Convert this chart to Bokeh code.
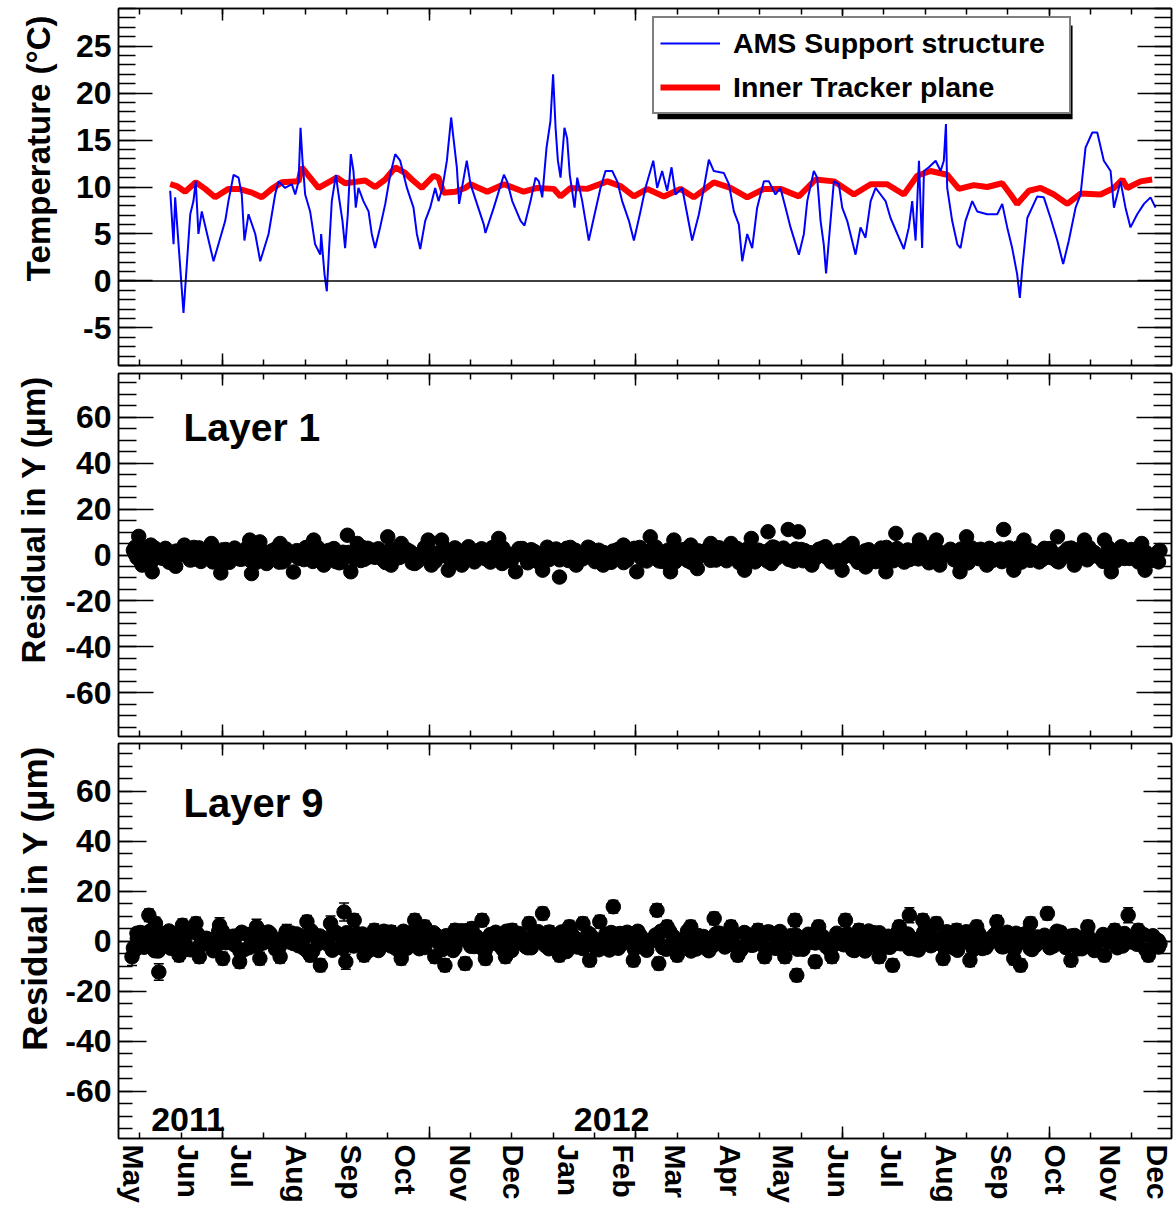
from bokeh.plotting import figure
from bokeh.models import (Range1d, FixedTicker, LinearAxis, Span, Legend, LegendItem, Title,
                          Label, BoxAnnotation, Whisker, ColumnDataSource, TeeHead)
from bokeh.layouts import column
from bokeh.embed import file_html
from bokeh.resources import INLINE

FONT = "Liberation Sans"

# ---------------- data (x = days since 2011-05-01) ----------------
month_days = [0, 31, 61, 92, 123, 153, 184, 214, 245, 276, 305, 336, 366, 397, 427, 458, 489, 519, 550, 580]
month_names = ["May", "Jun", "Jul", "Aug", "Sep", "Oct", "Nov", "Dec", "Jan", "Feb",
               "Mar", "Apr", "May", "Jun", "Jul", "Aug", "Sep", "Oct", "Nov", "Dec"]
year_labels = ["2011", "2012"]
year_days = [10.0, 248.0]

ams_support = [
    (20.7, 9.6), (22.6, 3.9), (23.5, 8.9), (28.2, -3.4), (32.0, 7.1), (33.8, 8.5), (35.1, 10.6), (36.6, 5.0),
    (38.5, 7.4), (45.1, 2.1), (51.7, 6.4), (53.5, 8.5), (56.4, 11.3), (59.2, 11.0), (61.0, 9.2), (62.5, 4.3),
    (64.8, 7.1), (68.6, 5.0), (71.4, 2.1), (76.1, 5.0), (79.8, 9.2), (81.7, 10.6), (85.4, 9.9), (89.2, 10.3),
    (91.1, 9.2), (93.0, 10.6), (94.1, 16.3), (95.2, 12.8), (96.7, 9.2), (99.5, 7.4), (102.3, 3.9), (105.2, 2.8),
    (105.7, 5.0), (107.6, 0.7), (108.9, -1.1), (110.2, 3.5), (111.7, 8.5), (114.0, 11.3), (115.5, 9.2), (117.7, 6.4),
    (119.2, 3.5), (120.7, 7.1), (122.4, 13.5), (123.9, 11.7), (125.2, 7.8), (126.7, 9.9), (129.5, 8.5), (132.4, 7.4),
    (134.2, 5.0), (136.1, 3.5), (138.9, 5.7), (141.8, 8.2), (144.6, 11.3), (147.4, 13.5), (150.2, 12.8), (154.0, 9.9),
    (157.7, 7.8), (159.6, 5.0), (161.5, 3.4), (164.3, 6.4), (167.1, 7.8), (169.9, 9.9), (171.8, 8.5), (174.0, 9.9),
    (176.5, 12.8), (178.9, 17.4), (180.2, 15.2), (182.1, 12.1), (183.4, 8.2), (187.7, 12.8),
    (189.8, 10.3), (197.3, 6.0), (198.2, 5.1), (202.9, 7.8), (208.6, 11.3), (210.4, 10.6), (213.3, 8.5), (218.0, 6.4),
    (220.2, 5.9), (223.6, 8.5), (226.4, 11.0), (228.3, 10.6), (230.2, 8.9), (232.6, 14.2), (234.8, 17.0), (236.3, 22.0),
    (237.7, 16.3), (239.0, 12.8), (240.5, 11.0), (242.7, 16.3), (244.2, 15.2), (245.7, 11.3), (248.4, 7.8), (249.9, 11.0),
    (252.7, 8.5), (256.4, 4.3), (259.2, 6.7), (263.0, 9.9), (265.8, 11.7), (269.6, 11.7), (272.4, 10.6), (275.2, 8.5),
    (279.0, 6.4), (281.8, 4.3), (285.5, 7.4), (288.3, 9.9), (292.7, 12.8), (294.9, 9.9), (297.7, 11.7), (300.5, 9.6),
    (303.0, 12.1), (305.2, 9.2), (309.0, 9.9), (311.8, 7.1), (314.6, 4.3), (318.4, 7.1), (321.2, 9.9), (324.0, 12.9),
    (326.8, 11.7), (332.4, 11.5), (335.3, 10.3), (338.1, 7.4), (340.9, 6.0), (342.8, 2.1), (345.6, 5.0), (348.4, 3.5),
    (351.2, 7.8), (355.0, 10.6), (357.8, 10.6), (361.5, 9.2), (364.3, 9.9), (367.2, 7.8), (370.0, 5.7), (374.7, 2.8),
    (377.5, 5.0), (379.4, 8.5), (383.1, 11.7), (385.0, 11.0), (386.9, 6.4), (388.7, 3.9), (390.0, 0.8),
    (394.4, 10.6), (397.2, 10.3), (399.1, 7.8), (401.9, 6.4), (406.6, 2.8), (409.4, 5.7), (412.2, 4.6), (415.1, 8.5),
    (417.9, 9.9), (420.7, 9.2), (423.5, 8.5), (426.3, 6.7), (430.1, 5.0), (433.8, 3.4), (436.6, 5.7), (438.5, 8.5),
    (440.4, 4.3), (442.3, 12.8), (444.1, 3.5), (445.1, 11.7), (447.9, 12.1), (451.7, 12.8), (454.5, 11.7), (456.3, 12.8),
    (457.5, 16.7), (458.2, 9.9), (461.0, 6.4), (463.9, 3.9), (465.7, 3.5), (468.5, 6.4), (472.3, 8.5), (475.1, 7.4),
    (480.7, 7.1), (486.4, 7.1), (489.2, 8.2), (492.0, 5.7), (494.8, 3.5), (497.6, 0.7), (499.1, -1.8), (500.5, 1.4),
    (503.3, 6.7), (508.9, 9.0), (512.6, 8.9), (516.4, 6.7), (520.2, 4.3), (523.5, 1.8), (526.7, 4.3), (530.5, 7.8),
    (533.3, 9.2), (536.1, 14.2), (539.9, 15.8), (542.7, 15.8), (546.4, 12.8), (550.2, 11.7), (552.1, 7.8), (555.8, 10.6),
    (558.6, 7.8), (561.4, 5.7), (565.2, 7.1), (569.0, 8.2), (572.7, 8.9), (575.5, 7.8),
]

inner_tracker = [
    (20.7, 10.3), (24.4, 10.1), (29.1, 9.5), (35.1, 10.5), (40.4, 9.8), (46.0, 8.9), (53.5, 9.8), (59.2, 9.8),
    (66.7, 9.4), (72.3, 8.9), (77.9, 9.8), (83.6, 10.5), (93.0, 10.6), (94.8, 12.1), (98.6, 11.2), (104.2, 9.9),
    (108.0, 10.3), (114.5, 11.0), (119.2, 10.4), (130.5, 10.7), (136.1, 10.0), (141.8, 10.8), (147.4, 12.1),
    (153.0, 11.5), (156.8, 10.8), (162.4, 9.9), (169.0, 11.2), (171.8, 11.0), (174.6, 9.4), (181.2, 9.5),
    (186.8, 9.9), (189.8, 10.3), (199.2, 9.5), (208.6, 10.3), (219.8, 9.5), (227.3, 9.9), (236.7, 9.8),
    (240.5, 9.0), (246.1, 9.9), (255.5, 9.8), (266.8, 10.6), (274.3, 10.1), (281.8, 9.0), (289.3, 9.8),
    (298.7, 9.0), (308.0, 9.8), (315.5, 8.9), (326.8, 10.5), (336.2, 9.9), (345.6, 8.9), (355.0, 9.8),
    (364.3, 9.8), (374.7, 9.0), (384.1, 10.8), (394.4, 10.6), (405.7, 9.2), (415.1, 10.3), (424.4, 10.3),
    (433.8, 9.2), (441.3, 11.2), (448.8, 11.7), (458.2, 11.3), (464.8, 9.8), (473.2, 10.2), (480.7, 10.0),
    (489.2, 10.4), (493.9, 9.2), (497.6, 8.2), (504.2, 9.6), (510.8, 9.9), (518.3, 9.2), (525.8, 8.2),
    (533.3, 9.3), (544.5, 9.2), (552.1, 9.9), (556.8, 10.8), (559.6, 9.9), (567.1, 10.6), (573.6, 10.8),
]

# residual samples: three interleaved 4-day grids (band) plus individually read points
band_days_a = list(range(0, 580, 4))
band_days_b = list(range(2, 580, 4))
band_days_c = list(range(1, 580, 4))
layer1_band_a = [
    2.1, -2.6, 0.8, 3.0, -1.4, -3.1, 1.7, 0.2, -2.2, 2.8,
    -0.9, 1.3, -3.3, 2.4, 0.5, -1.8, 3.2, -2.7, 1.0, -0.4,
    2.6, -3.0, 0.9, 1.9, -2.0, -0.7, 3.1, -1.5, 2.2, -3.4,
    0.3, 1.6, -2.4, 2.9, -1.0, 0.6, -3.2, 2.0, -0.2, 1.4,
    -2.8, 3.3, -1.2, 0.4, 2.5, -2.3, -0.8, 1.8, -3.0, 2.7,
    0.1, -1.6, 3.0, -2.5, 1.1, -0.5, 2.3, -3.1, 1.5, 0.7,
    -2.1, 2.9, -1.3, 0.0, 3.4, -2.9, 1.2, -0.6, 2.0, -3.3,
    1.7, 0.9, -1.9, 2.6, -2.6, 0.5, 3.1, -1.1, -2.4, 1.9,
    0.3, 3.2, -2.2, 1.4, -0.9, 2.8, -3.0, 0.8, 2.1, -1.7,
    3.5, -0.3, 1.6, -2.7, 2.4, 0.2, -1.4, 3.0, -2.0, 1.3,
    -0.8, 2.7, -3.2, 1.8, 0.6, -1.9, 3.3, -2.5, 0.4, 2.2,
    -1.2, 2.9, -3.4, 1.5, -0.1, 2.5, -2.8, 1.0, 3.1, -1.6,
    0.7, -2.3, 2.6, -0.5, 1.9, -3.1, 2.3, 0.1, -1.8, 2.8,
    -2.6, 1.1, 3.0, -1.0, 0.5,
]
layer1_band_b = [
    -1.2, 2.4, -3.0, 0.6, 2.9, -2.1, 1.1, -0.4, 3.3, -2.8,
    0.9, -1.7, 2.2, -3.2, 1.5, 0.3, -2.5, 3.0, -0.8, 1.8,
    -3.1, 2.6, 0.1, -1.3, 3.4, -2.2, 0.7, 2.0, -2.9, 1.2,
    -0.6, 3.1, -1.9, 0.4, 2.7, -3.3, 1.6, -1.0, 2.3, -2.4,
    0.8, 3.0, -2.7, 1.3, -0.2, 2.5, -3.0, 0.5, 1.9, -1.6,
    3.2, -2.3, 0.9, -0.7, 2.8, -3.4, 1.4, 0.2, -2.0, 2.6,
    -1.1, 3.3, -2.6, 1.0, -0.3, 2.1, -3.1, 1.7, 0.6, -2.2,
    2.9, -1.4, 0.3, 3.5, -2.8, 1.2, -0.9, 2.4, -3.2, 1.8,
    0.0, -1.8, 3.1, -2.5, 1.5, -0.5, 2.7, -3.0, 0.7, 2.2,
    -1.5, 3.0, -2.1, 0.4, 1.9, -3.3, 2.5, -0.8, 1.1, -2.6,
    3.4, -1.2, 0.6, 2.3, -2.9, 1.6, -0.1, 2.8, -3.1, 0.9,
    -1.7, 3.2, -2.4, 1.3, 0.2, -2.0, 2.6, -3.4, 1.8, -0.6,
    2.9, -1.3, 0.5, -2.7, 3.1, -0.9, 1.4, -3.0, 2.1, 0.8,
    -1.9, 2.7, -2.3, 1.0, 3.3, -0.4, -2.8, 1.7, 0.3, -1.5,
    2.4, -3.1, 1.2, -0.7, 2.0,
]
layer1_band_c = [
    0.4, -2.9, 2.7, -1.1, 1.6, -3.2, 0.9, 2.3, -2.0, 3.1,
    -0.7, 1.2, -2.6, 0.0, 3.0, -1.8, 2.1, -3.3, 1.4, -0.5,
    2.8, -2.3, 0.7, -1.4, 3.2, -2.8, 1.9, -0.2, 2.4, -3.0,
    1.1, -1.9, 3.3, -0.8, 0.5, -2.5, 2.6, -1.2, 1.8, -3.4,
    0.3, 2.9, -2.1, 1.5, -0.9, 3.1, -2.7, 0.8, -1.5, 2.2,
    -3.1, 1.3, 0.1, -2.2, 2.7, -0.6, 1.7, -2.9, 3.4, -1.0,
    0.6, -2.4, 2.0, -1.7, 3.0, -0.3, 1.0, -3.2, 2.5, -1.3,
    0.9, 3.3, -2.6, 1.4, -0.4, 2.1, -3.0, 0.2, 2.9, -1.6,
    1.2, -2.3, 3.1, -0.9, 0.7, -3.3, 2.3, -1.1, 1.6, -2.7,
    3.2, 0.0, -1.9, 2.6, -2.5, 1.0, -0.7, 2.4, -3.1, 1.9,
    -0.2, 2.8, -2.2, 0.5, -1.4, 3.0, -2.8, 1.5, 0.3, -2.0,
    2.7, -1.1, 3.3, -2.4, 0.8, -0.5, 2.0, -3.4, 1.2, 2.5,
    -1.7, 0.6, -2.9, 3.1, -0.8, 1.8, -2.3, 0.4, 2.9, -1.2,
    -3.0, 1.6, 0.2, 2.6, -2.1, 1.1, -0.6, 3.2, -2.7, 0.9,
    -1.5, 2.3, -0.1, -2.4, 1.4,
]
layer1_points = [
    (3.0, 8.1), (1.1, 3.5), (4.9, -4.4), (10.6, -7.3), (9.8, 4.3), (21.9, 0.6), (23.8, -4.9), (28.7, 4.3),
    (33.3, -0.8), (43.9, 5.0), (44.7, -3.0), (49.2, -7.8), (56.0, 2.1), (65.5, 6.5), (66.5, -8.1), (71.2, 5.7),
    (75.0, -3.7), (82.6, 5.0), (90.1, -7.4), (101.5, 6.5), (107.2, -4.4), (112.9, 2.8), (120.5, 8.6), (122.4, -7.3),
    (126.1, 5.0), (135.6, 2.1), (143.2, 7.9), (145.1, -4.4), (150.8, 5.0), (158.4, -3.7), (166.0, 6.5), (167.8, -4.4),
    (173.5, 6.5), (177.3, -6.6), (184.9, -4.4), (188.7, 3.6), (198.2, -0.8), (205.7, 7.2), (207.6, -3.7),
    (215.2, -7.3), (219.0, 2.8), (230.4, -6.6), (238.0, -0.1), (239.9, -9.6), (249.3, -4.4), (256.9, 2.8),
    (264.5, -4.4), (275.9, 4.3), (283.4, -7.3), (291.0, 7.9), (294.8, -0.8), (302.4, -7.3), (304.3, 6.5),
    (313.8, 4.3), (317.5, -5.9), (325.1, 5.0), (332.7, -0.1), (336.5, 5.0), (344.1, -6.6), (347.9, 7.2),
    (357.3, 10.1), (359.2, -3.7), (368.7, 11.1), (374.4, 10.1), (382.0, -4.4), (389.6, 3.6), (399.0, -6.6),
    (404.7, 5.0), (412.3, -5.2), (423.7, -7.3), (429.3, 9.4), (433.1, -0.8), (442.6, 6.5), (452.1, 6.5),
    (454.0, -4.4), (465.4, -7.3), (469.1, 7.9), (480.5, -4.4), (490.0, 11.1), (495.7, -6.6), (501.4, 6.5),
    (510.8, -0.8), (520.3, 7.9), (529.8, -4.4), (535.5, 6.5), (546.8, 6.5), (550.6, -7.3), (556.3, 3.6),
    (567.7, 5.0), (569.6, -6.6), (577.2, -3.0),
]
layer9_band_a = [
    -2.8, 3.4, 0.6, -3.9, 2.2, 4.0, -1.3, 1.5, -3.5, 2.9,
    0.2, -2.4, 3.8, -0.7, 1.9, -4.1, 2.6, -1.8, 0.9, 3.6,
    -3.2, 1.2, -0.4, 2.8, -2.9, 4.1, -1.1, 0.5, -3.7, 2.3,
    3.3, -2.0, 1.0, -4.0, 2.7, -0.2, 1.7, -3.1, 3.9, -1.5,
    0.8, -2.6, 3.0, -0.9, 2.1, -3.8, 1.4, 4.2, -2.2, 0.3,
    -1.6, 3.5, -3.4, 2.0, -0.6, 1.1, -2.7, 3.7, -1.9, 0.4,
    2.5, -4.2, 1.6, -0.3, 3.2, -2.5, 0.7, -3.6, 2.4, 1.3,
    -1.0, 3.9, -2.8, 0.1, 2.6, -3.3, 1.8, -1.4, 4.0, -2.1,
    0.9, -3.9, 2.9, -0.5, 1.5, -2.3, 3.4, -1.7, 0.6, -3.0,
    2.2, 3.8, -1.2, 0.0, -2.9, 2.7, -0.8, 1.9, -3.5, 3.1,
    -1.5, 0.4, 2.3, -4.0, 1.0, 3.3, -2.4, 0.7, -1.1, 2.8,
    -3.2, 1.6, 3.6, -0.4, -2.0, 2.1, -3.7, 1.2, 0.3, 3.0,
    -2.6, 1.7, -0.9, 3.5, -3.4, 0.8, 2.4, -1.8, 1.1, -2.7,
    3.9, -0.6, 2.0, -3.1, 0.5,
]
layer9_band_b = [
    3.1, -2.5, 0.4, -4.0, 2.8, -0.9, 1.6, -3.3, 3.7, -1.4,
    0.7, -2.8, 4.0, -0.3, 2.0, -3.6, 1.3, -1.9, 3.2, 0.2,
    -2.6, 3.8, -1.0, 1.8, -4.1, 2.5, 0.0, -1.6, 3.4, -3.0,
    1.1, 2.9, -2.3, 0.6, -3.8, 3.6, -0.7, 1.9, -2.9, 4.2,
    -1.2, 0.5, 2.6, -3.4, 1.4, -0.4, 3.0, -2.1, 0.9, -3.9,
    2.3, -1.7, 3.9, -0.6, 1.2, -2.7, 3.3, 0.3, -3.1, 2.0,
    -1.1, 4.1, -2.4, 0.8, 1.7, -3.5, 2.7, -0.2, -1.8, 3.5,
    -3.2, 1.5, 0.1, 2.4, -2.6, 3.8, -1.3, 0.6, -4.0, 2.2,
    1.0, -2.0, 3.1, -0.8, 2.6, -3.7, 0.4, 1.8, -1.5, 3.6,
    -2.9, 0.9, 2.1, -3.3, 1.3, -0.5, 3.4, -2.2, 0.2, -1.0,
    2.8, -3.8, 1.6, 4.0, -1.9, 0.7, -2.5, 3.2, -0.1, 1.1,
    -3.6, 2.5, -1.4, 0.5, 3.7, -2.8, 1.9, -0.6, 2.3, -3.0,
    0.8, 3.3, -2.3, 1.4, -1.2, 2.9, -3.4, 0.3, 1.7, -2.0,
    3.5, -0.7, 2.2, -3.1, 1.0, -1.6, 2.6, 0.0, -2.7, 3.0,
    -0.4, 1.5, -3.5, 2.1, -1.1,
]
layer9_band_c = [
    -3.5, 1.9, 3.8, -1.2, 0.6, -2.9, 2.6, -0.4, 4.0, -2.2,
    1.1, -3.9, 2.3, 0.3, -1.6, 3.5, -2.7, 1.4, -0.8, 2.9,
    -3.3, 0.9, 3.2, -1.9, 1.7, -4.0, 2.0, -0.1, 3.7, -2.5,
    0.5, -1.3, 2.8, -3.6, 1.2, 3.9, -2.0, 0.7, -0.9, 2.4,
    -3.1, 1.6, 3.3, -1.5, 0.2, -2.8, 4.1, -0.6, 1.9, -3.4,
    2.6, -1.0, 0.4, -3.8, 3.0, -2.3, 1.3, -0.2, 2.2, -2.6,
    3.6, -1.4, 0.8, -3.0, 2.7, 0.0, -1.8, 3.4, -2.9, 1.5,
    -0.5, 2.5, -3.7, 1.0, 3.9, -2.1, 0.6, -1.2, 2.1, -3.2,
    1.8, -0.7, 3.1, -2.4, 0.3, -3.9, 2.9, -1.6, 1.4, 3.6,
    -2.8, 0.1, -1.1, 2.4, -3.3, 1.7, 3.8, -0.3, -2.5, 1.0,
    2.2, -3.6, 0.7, -1.7, 3.3, -2.2, 1.9, -0.9, 2.8, -3.0,
    0.4, 3.5, -1.9, 1.1, -2.7, 2.0, -0.6, 3.7, -3.4, 1.3,
    -1.4, 2.6, -2.3, 0.9, 3.1, -0.2, -3.1, 1.6, 2.3, -1.0,
    3.4, -2.6, 0.5, -1.5, 2.8, -3.8, 1.2, -0.4, 3.0, -2.0,
    0.8, -1.3, 2.5, -3.2, 0.2,
]
layer9_points = [  # (day, residual, error)
    (-0.8, -6.3, 3.5), (2.2, 1.0, 3.0), (8.7, 10.3, 2.5), (12.4, 7.0, 2.5), (14.3, -12.4, 3.3), (18.1, 3.0, 2.5),
    (25.7, -5.7, 2.5), (27.6, 6.3, 2.5), (35.2, 7.0, 2.5), (37.1, -6.3, 2.5), (48.5, 6.3, 3.0), (50.3, -7.0, 2.5),
    (59.8, -8.3, 2.5), (69.3, 5.7, 3.0), (71.2, -7.0, 2.5), (82.6, -6.3, 2.5), (86.4, 3.6, 3.0), (97.7, 7.7, 2.5),
    (99.6, -5.7, 2.5), (105.3, -9.7, 2.5), (111.0, 7.0, 3.0), (118.6, 11.6, 3.6), (119.6, -8.3, 3.0), (124.3, 8.3, 2.5),
    (129.9, -5.7, 2.5), (135.6, 4.3, 2.5), (145.1, 3.6, 2.5), (150.8, -7.0, 2.5), (158.4, 8.3, 2.5), (164.0, 5.7, 2.5),
    (169.7, -6.3, 2.5), (175.4, -9.7, 2.5), (181.1, 4.3, 2.5), (186.8, -9.0, 2.5), (190.6, 5.0, 2.5), (196.3, 8.3, 2.5),
    (198.2, -7.0, 2.5), (209.5, -6.3, 2.5), (213.3, 4.3, 2.5), (222.8, 7.0, 2.5), (230.4, 11.0, 2.5), (234.2, 3.6, 2.5),
    (239.9, -5.7, 2.5), (245.5, 5.7, 2.5), (253.1, 7.0, 2.5), (256.9, -7.7, 2.5), (262.6, 7.7, 2.5), (270.2, 13.7, 2.5),
    (274.0, 3.0, 2.5), (281.5, -7.7, 2.5), (287.2, 0.3, 2.5), (294.8, 12.3, 2.5), (295.8, -9.0, 2.5), (300.5, 5.7, 2.5),
    (306.2, -5.7, 2.5), (313.8, 5.7, 2.5), (323.2, -3.0, 2.5), (327.0, 9.0, 2.5), (336.5, 5.7, 2.5), (340.3, -5.7, 2.5),
    (351.7, 4.3, 2.5), (355.4, -6.3, 2.5), (366.8, -6.3, 2.5), (372.5, 8.3, 2.5), (373.5, -13.7, 2.5), (383.9, -8.3, 2.5),
    (385.8, 5.7, 2.5), (393.3, -6.3, 2.5), (400.9, 8.3, 2.5), (408.5, 4.3, 2.5), (419.9, -6.3, 2.5), (427.5, -9.7, 2.5),
    (431.2, 5.7, 2.5), (436.9, 10.3, 3.0), (444.5, 8.3, 2.5), (452.1, 7.0, 2.5), (455.9, -7.0, 2.5), (463.5, 4.3, 2.5),
    (471.0, -7.7, 2.5), (474.8, 5.7, 2.5), (486.2, 7.7, 2.5), (495.7, -7.0, 2.5), (499.5, -9.7, 2.5), (505.1, 7.0, 2.5),
    (514.6, 11.0, 2.5), (522.2, 3.0, 2.5), (527.9, -7.7, 2.5), (537.4, 5.7, 2.5), (546.8, -5.7, 2.5), (552.5, 4.3, 2.5),
    (560.1, 10.3, 3.0), (565.8, 4.3, 2.5), (571.5, -5.7, 2.5), (577.2, -2.4, 2.5),
]

# tick grid of the original time axis
x_minor = [3.6 + 23.27 * k for k in range(25)]
x_major = x_minor[2::5]

# ---------------- helpers ----------------
xr = Range1d(-8.4, 584.5)


def make_fig(height, y0, y1, top, bottom):
    p = figure(width=1173, height=height, x_range=xr, y_range=Range1d(y0, y1),
               output_backend="svg", toolbar_location=None,
               min_border_left=118, min_border_right=2, min_border_top=top, min_border_bottom=bottom)
    p.grid.visible = False
    p.outline_line_color = "black"
    p.outline_line_width = 1.5
    p.background_fill_color = "white"
    p.border_fill_color = "white"
    return p


def style_axis(ax, ticker, maj, mnr, labels=False, size="32px"):
    ax.ticker = ticker
    ax.major_tick_in = maj
    ax.major_tick_out = 0
    ax.minor_tick_in = mnr
    ax.minor_tick_out = 0
    ax.major_tick_line_width = 1.5
    ax.minor_tick_line_width = 1.5
    ax.major_tick_line_color = "black"
    ax.minor_tick_line_color = "black"
    ax.axis_line_width = 1.5
    ax.axis_line_color = "black"
    if labels:
        ax.major_label_text_font = FONT
        ax.major_label_text_font_style = "bold"
        ax.major_label_text_font_size = size
        ax.major_label_text_color = "black"
        ax.major_label_standoff = 7
    else:
        ax.major_label_text_font_size = "0px"
        ax.major_label_text_color = None
        ax.major_label_standoff = 0


def setup_axes(p, yticks, yminor, ymaj, ymin, title, title_size, title_standoff, title_offset):
    yl = p.yaxis[0]
    style_axis(yl, FixedTicker(ticks=yticks, minor_ticks=yminor), ymaj, ymin, labels=True)
    yl.major_label_overrides = {v: str(v) for v in yticks}
    p.add_layout(Title(text=title, align="right", standoff=title_standoff, offset=title_offset,
                       text_font=FONT, text_font_style="bold", text_font_size=title_size,
                       text_color="black"), "left")
    yr = LinearAxis()
    style_axis(yr, FixedTicker(ticks=yticks, minor_ticks=yminor), ymaj, ymin)
    p.add_layout(yr, "right")
    style_axis(p.xaxis[0], FixedTicker(ticks=x_major, minor_ticks=x_minor), 12, 6)
    xt = LinearAxis()
    style_axis(xt, FixedTicker(ticks=x_major, minor_ticks=x_minor), 12, 6)
    p.add_layout(xt, "above")


# ---------------- top: temperatures ----------------
p1 = make_fig(369, -9, 29, 8, 4)
setup_axes(p1, list(range(-5, 26, 5)), list(range(-9, 30)), 34, 17,
           "Temperature (°C)", "33px", 31, 7)
p1.add_layout(Span(location=0, dimension="width", line_color="black", line_width=1.5))
p1.add_layout(BoxAnnotation(left=295.1, right=528.8, top=27.2, bottom=17.2,
                            fill_color="black", fill_alpha=1, line_color=None, level="underlay"))

itp_r = p1.line([d for d, _ in inner_tracker], [t for _, t in inner_tracker],
                line_color="#ff0000", line_width=6)
ams_r = p1.line([d for d, _ in ams_support], [t for _, t in ams_support],
                line_color="#0000ff", line_width=2)

legend = Legend(items=[LegendItem(label="AMS Support structure", renderers=[ams_r]),
                       LegendItem(label="Inner Tracker plane", renderers=[itp_r])],
                location=(534, 251), padding=6, spacing=6, margin=0,
                glyph_width=60, glyph_height=38, label_height=38, label_width=330, label_standoff=13,
                label_text_font=FONT, label_text_font_style="bold", label_text_font_size="28.5px",
                label_text_color="black", border_line_color="black", border_line_width=2,
                background_fill_color="white", background_fill_alpha=1)
p1.add_layout(legend)

# ---------------- middle: layer 1 ----------------
p2 = make_fig(370, -79, 79, 4, 3)
setup_axes(p2, list(range(-60, 61, 20)), list(range(-75, 80, 5)), 35, 18,
           "Residual in Y (μm)", "33px", 21, 2)
p2.scatter(band_days_a, layer1_band_a, size=14.5, color="black")
p2.scatter(band_days_b, layer1_band_b, size=14.5, color="black")
p2.scatter(band_days_c, layer1_band_c, size=14.5, color="black")
p2.scatter([d for d, _ in layer1_points], [v for _, v in layer1_points], size=14.5, color="black")
p2.add_layout(Label(x=28.2, y=55.4, text="Layer 1", text_font=FONT, text_font_style="bold",
                    text_font_size="39px", text_color="black", text_baseline="alphabetic"))

# ---------------- bottom: layer 9 ----------------
p3 = make_fig(466, -79, 79, 4, 67)
setup_axes(p3, list(range(-60, 61, 20)), list(range(-75, 80, 5)), 28, 14,
           "Residual in Y (μm)", "35px", 18, 2)
src9 = ColumnDataSource(dict(
    x=[d for d, _, _ in layer9_points],
    y=[v for _, v, _ in layer9_points],
    lo=[v - e for _, v, e in layer9_points],
    hi=[v + e for _, v, e in layer9_points],
))
p3.add_layout(Whisker(source=src9, base="x", upper="hi", lower="lo", line_color="black", line_width=1.5,
                      upper_head=TeeHead(size=10, line_width=1.5, line_color="black"),
                      lower_head=TeeHead(size=10, line_width=1.5, line_color="black")))
p3.scatter(band_days_a, layer9_band_a, size=14.5, color="black")
p3.scatter(band_days_b, layer9_band_b, size=14.5, color="black")
p3.scatter(band_days_c, layer9_band_c, size=14.5, color="black")
p3.scatter("x", "y", source=src9, size=14.5, color="black")
p3.add_layout(Label(x=28.2, y=55.2, text="Layer 9", text_font=FONT, text_font_style="bold",
                    text_font_size="40px", text_color="black", text_baseline="alphabetic"))
for yl_text, yd in zip(year_labels, year_days):
    p3.add_layout(Label(x=yd, y=-71.5, text=yl_text, text_font=FONT, text_font_style="bold",
                        text_font_size="34px", text_color="black", text_baseline="alphabetic"))

month_axis = LinearAxis(ticker=FixedTicker(ticks=month_days, minor_ticks=[]),
                        major_label_overrides={d: n for d, n in zip(month_days, month_names)},
                        major_label_orientation="vertical",
                        major_tick_in=0, major_tick_out=0, minor_tick_in=0, minor_tick_out=0,
                        axis_line_color=None, major_label_standoff=6,
                        major_label_text_font=FONT, major_label_text_font_style="bold",
                        major_label_text_font_size="30px", major_label_text_color="black")
p3.add_layout(month_axis, "below")

layout = column(p1, p2, p3, spacing=0)
open("out.html", "w").write(file_html(layout, INLINE))
